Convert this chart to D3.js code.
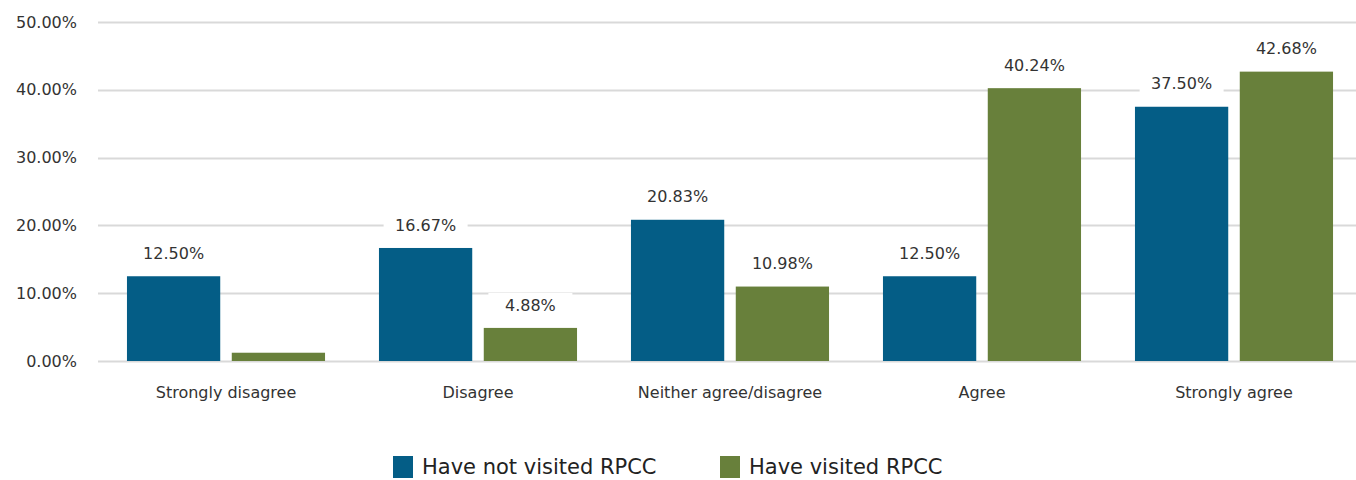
<!DOCTYPE html>
<html>
<head>
<meta charset="utf-8">
<script src="https://cdn.jsdelivr.net/npm/d3@7"></script>
<style>
  body { margin: 0; background: #fff; }
  svg { display: block; font-family: "DejaVu Sans", sans-serif; }
</style>
</head>
<body>
<div id="chart"></div>
<script>
// chart data
const categories = ["Strongly disagree", "Disagree", "Neither agree/disagree", "Agree", "Strongly agree"];
const seriesNames = ["Have not visited RPCC", "Have visited RPCC"];
const notVisited = [12.50, 16.67, 20.83, 12.50, 37.50];
const visited = [1.22, 4.88, 10.98, 40.24, 42.68];
const visitedLabels = ["", "4.88%", "10.98%", "40.24%", "42.68%"];
const notVisitedLabels = ["12.50%", "16.67%", "20.83%", "12.50%", "37.50%"];
const yTicks = [0, 10, 20, 30, 40, 50];
const colors = ["#045d86", "#68803b"];

(function () {
    const width = 1356, height = 480,
        margin = ({ top: 22, right: -4, bottom: 119, left: 100 });

    const svg = d3.select("#chart")
        .append("svg")
        .attr("width", width)
        .attr("height", height);

    const x = d3.scaleBand()
        .domain(categories)
        .range([margin.left, width - margin.right])
        .paddingInner(0.214)
        .paddingOuter(0.107);

    const x1 = d3.scaleBand()
        .domain(seriesNames)
        .range([0, x.bandwidth()])
        .paddingInner(0.11);

    const y = d3.scaleLinear()
        .domain([0, 50])
        .range([height - margin.bottom, margin.top]);

    // gridlines
    svg.append("g")
        .selectAll("line")
        .data(yTicks)
        .join("line")
        .attr("x1", 98)
        .attr("x2", width)
        .attr("y1", d => Math.round(y(d)) + 0.5)
        .attr("y2", d => Math.round(y(d)) + 0.5)
        .attr("stroke", "#d9d9d9")
        .attr("stroke-width", 2);

    // y tick labels
    svg.append("g")
        .selectAll("text")
        .data(yTicks)
        .join("text")
        .attr("x", 77)
        .attr("y", d => y(d))
        .attr("dy", "0.35em")
        .attr("text-anchor", "end")
        .attr("font-size", 16)
        .attr("fill", "#333")
        .text(d => d.toFixed(2) + "%");

    const rows = categories.map((c, i) => ({
        cat: c,
        vals: [
            { s: seriesNames[0], v: notVisited[i], label: notVisitedLabels[i] },
            { s: seriesNames[1], v: visited[i], label: visitedLabels[i] }
        ]
    }));

    const groups = svg.append("g")
        .selectAll("g")
        .data(rows)
        .join("g")
        .attr("transform", d => `translate(${x(d.cat)},0)`);

    groups.selectAll("rect")
        .data(d => d.vals)
        .join("rect")
        .attr("x", d => x1(d.s))
        .attr("y", d => y(d.v))
        .attr("width", x1.bandwidth())
        .attr("height", d => y(0) - y(d.v))
        .attr("fill", (d, i) => colors[i]);

    // data labels with white box behind them
    const lab = groups.selectAll("g.lab")
        .data(d => d.vals.filter(v => v.label))
        .join("g")
        .attr("class", "lab")
        .attr("transform", d => `translate(${x1(d.s) + x1.bandwidth() / 2},${y(d.v) - 23})`);

    lab.append("rect")
        .attr("x", -42)
        .attr("y", -12)
        .attr("width", 84)
        .attr("height", 24)
        .attr("fill", "#fff");

    lab.append("text")
        .attr("text-anchor", "middle")
        .attr("dy", "0.35em")
        .attr("font-size", 16)
        .attr("fill", "#333")
        .text(d => d.label);

    // category labels
    svg.append("g")
        .selectAll("text")
        .data(categories)
        .join("text")
        .attr("x", d => x(d) + x.bandwidth() / 2)
        .attr("y", 392)
        .attr("dy", "0.35em")
        .attr("text-anchor", "middle")
        .attr("font-size", 16)
        .attr("fill", "#333")
        .text(d => d);

    // legend
    const legendX = [393, 720];
    const leg = svg.append("g")
        .selectAll("g")
        .data(seriesNames)
        .join("g")
        .attr("transform", (d, i) => `translate(${legendX[i]},456)`);

    leg.append("rect")
        .attr("width", 20)
        .attr("height", 22)
        .attr("fill", (d, i) => colors[i]);

    leg.append("text")
        .attr("x", 29)
        .attr("y", 11)
        .attr("dy", "0.35em")
        .attr("font-size", 21)
        .attr("fill", "#222")
        .text(d => d);
})();
</script>
</body>
</html>
